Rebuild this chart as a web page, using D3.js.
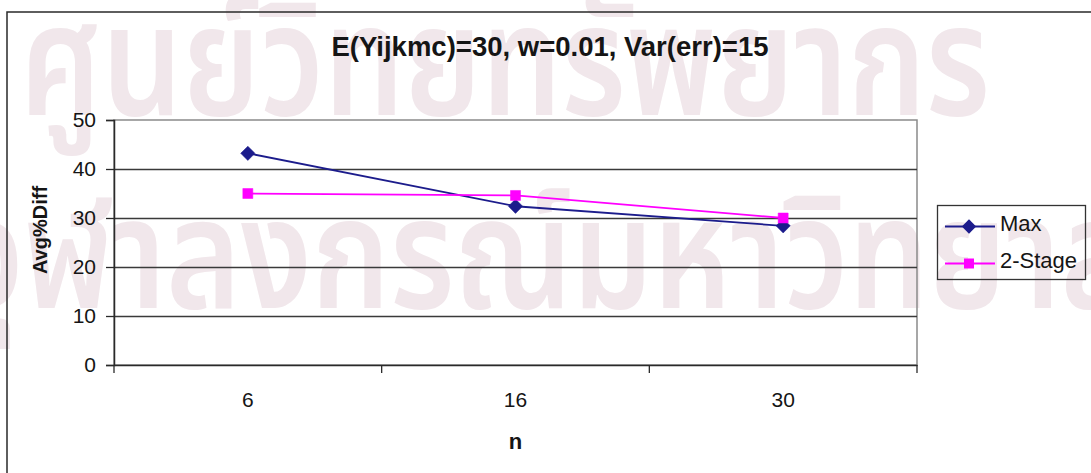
<!DOCTYPE html>
<html>
<head>
<meta charset="utf-8">
<script src="https://cdn.jsdelivr.net/npm/d3@7"></script>
<style>
  html, body { margin: 0; padding: 0; background: #ffffff; }
  svg { display: block; }
  text { font-family: Arial, "Liberation Sans", sans-serif; fill: #151515; }
</style>
</head>
<body>
<svg id="chart" width="1091" height="473"></svg>
<script>
// Chart data
const categories = ["6", "16", "30"];
const seriesNames = ["Max", "2-Stage"];
const maxValues = [43.2, 32.4, 28.4];
const twoStageValues = [35.0, 34.6, 30.0];
const yTicks = [0, 10, 20, 30, 40, 50];
const titleText = "E(Yijkmc)=30, w=0.01, Var(err)=15";
const xTitle = "n";
const yTitle = "Avg%Diff";
const watermarkLines = ["ศูนย์วิทยทรัพยากร", "จุฬาลงกรณ์มหาวิทยาลัย"];

const series = [
  { name: seriesNames[0], values: maxValues, color: "#1c1c8c", shape: d3.symbolDiamond2 },
  { name: seriesNames[1], values: twoStageValues, color: "#ff00ff", shape: d3.symbolSquare }
];

const svg = d3.select("#chart");
const plot = { left: 114, right: 917, top: 120, bottom: 365 };

// Pale background lettering
const wmFont = "'Noto Sans Thai', 'Tlwg Typo', 'Garuda', 'DejaVu Sans', sans-serif";
const wmRows = [
  { x: 20, y: 115, len: 970 },
  { x: -46, y: 308, len: 1259 }
];
svg.append("g").attr("class", "watermark")
  .selectAll("text")
  .data(watermarkLines)
  .join("text")
  .attr("x", (d, i) => wmRows[i].x).attr("y", (d, i) => wmRows[i].y)
  .attr("textLength", (d, i) => wmRows[i].len).attr("lengthAdjust", "spacingAndGlyphs")
  .style("font-family", wmFont)
  .style("font-weight", "600").style("font-size", "155px").style("fill", "#f1e7eb")
  .text(d => d);

// Outer chart frame
svg.append("rect")
  .attr("x", 7).attr("y", 12).attr("width", 1100).attr("height", 470)
  .attr("fill", "none").attr("stroke", "#2a2a2a").attr("stroke-width", 1.5);

// Scales
const x = d3.scaleBand().domain(categories).range([plot.left, plot.right]).padding(0);
const y = d3.scaleLinear().domain([0, 50]).range([plot.bottom, plot.top]);
const cx = d => x(d) + x.bandwidth() / 2;

// Plot area border
svg.append("rect")
  .attr("x", plot.left).attr("y", plot.top)
  .attr("width", plot.right - plot.left).attr("height", plot.bottom - plot.top)
  .attr("fill", "none").attr("stroke", "#8a8a8a").attr("stroke-width", 1.5);

// Horizontal gridlines
svg.append("g")
  .selectAll("line")
  .data(yTicks.filter(t => t > 0 && t < 50))
  .join("line")
  .attr("x1", plot.left).attr("x2", plot.right)
  .attr("y1", d => Math.round(y(d)) + 0.5).attr("y2", d => Math.round(y(d)) + 0.5)
  .attr("stroke", "#3a3a3a").attr("stroke-width", 1.3);

// Y axis
const yAxis = svg.append("g")
  .attr("transform", `translate(${plot.left},0)`)
  .call(d3.axisLeft(y).tickValues(yTicks).tickSize(8).tickPadding(10).tickFormat(d3.format("d")));
yAxis.select(".domain").attr("stroke", "#2a2a2a").attr("stroke-width", 1.5);
yAxis.selectAll(".tick line").attr("stroke", "#2a2a2a").attr("stroke-width", 1.3);
yAxis.selectAll(".tick text")
  .style("font-size", "21px").style("font-family", "Arial, 'Liberation Sans', sans-serif")
  .attr("fill", "#151515");

// X axis: labels centred in each category, tick marks on category boundaries
const xAxis = svg.append("g")
  .attr("transform", `translate(0,${plot.bottom})`)
  .call(d3.axisBottom(x).tickSize(0).tickPadding(27));
xAxis.select(".domain").attr("stroke", "#2a2a2a").attr("stroke-width", 1.5);
xAxis.selectAll(".tick text")
  .style("font-size", "21px").style("font-family", "Arial, 'Liberation Sans', sans-serif")
  .attr("fill", "#151515");
const boundaries = categories.map(c => x(c)).concat([x(categories[categories.length - 1]) + x.bandwidth()]);
xAxis.selectAll(".bnd")
  .data(boundaries)
  .join("line").attr("class", "bnd")
  .attr("x1", d => d).attr("x2", d => d)
  .attr("y1", 0).attr("y2", 8)
  .attr("stroke", "#2a2a2a").attr("stroke-width", 1.3);

// Series lines and markers
const line = d3.line().x((d, i) => cx(categories[i])).y(d => y(d));
series.forEach(s => {
  svg.append("path")
    .datum(s.values)
    .attr("d", line)
    .attr("fill", "none").attr("stroke", s.color).attr("stroke-width", 1.8);
  svg.append("g")
    .selectAll("path")
    .data(s.values)
    .join("path")
    .attr("transform", (d, i) => `translate(${cx(categories[i])},${y(d)})`)
    .attr("d", d3.symbol().type(s.shape).size(s.shape === d3.symbolSquare ? 100 : 130))
    .attr("fill", s.color).attr("stroke", s.color).attr("stroke-width", 0.5);
});

// Title
svg.append("text")
  .attr("x", 550).attr("y", 56)
  .attr("text-anchor", "middle")
  .style("font-size", "27.5px").style("font-weight", "bold")
  .text(titleText);

// Axis titles
svg.append("text")
  .attr("x", cx(categories[1])).attr("y", 449)
  .attr("text-anchor", "middle")
  .style("font-size", "22px").style("font-weight", "bold")
  .text(xTitle);
svg.append("text")
  .attr("transform", "translate(47,230) rotate(-90)")
  .attr("text-anchor", "middle")
  .style("font-size", "20px").style("font-weight", "bold")
  .text(yTitle);

// Legend
const legend = svg.append("g");
legend.append("rect")
  .attr("x", 937.5).attr("y", 205.5).attr("width", 148).attr("height", 74)
  .attr("fill", "none").attr("stroke", "#333").attr("stroke-width", 1.3);
const rows = [226.5, 263.5];
series.forEach((s, i) => {
  const g = legend.append("g").attr("transform", `translate(0,${rows[i]})`);
  g.append("line").attr("x1", 945).attr("x2", 995).attr("y1", 0).attr("y2", 0)
    .attr("stroke", s.color).attr("stroke-width", 1.8);
  g.append("path")
    .attr("transform", "translate(969,0)")
    .attr("d", d3.symbol().type(s.shape).size(s.shape === d3.symbolSquare ? 100 : 130))
    .attr("fill", s.color);
  g.append("text").attr("x", 1000).attr("y", 4)
    .style("font-size", "22px")
    .text(s.name);
});
</script>
</body>
</html>
